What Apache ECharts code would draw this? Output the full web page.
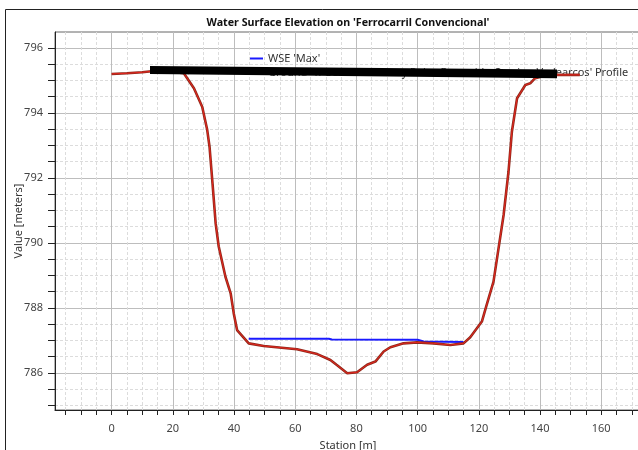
<!DOCTYPE html>
<html>
<head>
<meta charset="utf-8">
<script src="https://cdn.jsdelivr.net/npm/echarts@6/dist/echarts.min.js"></script>
<style>
html,body{margin:0;padding:0;background:#fff;}
#c{width:638px;height:450px;}
</style>
</head>
<body>
<div id="c"></div>
<script>
// ---- data ----
var titleText = "Water Surface Elevation on 'Ferrocarril Convencional'";
var wseName = "WSE 'Max'";
var groundName = "Ground 'Tr Sobre Terreno y Pelos Recrecido Camino Vadearcos' Profile";
var xAxisName = "Station [m]";
var yAxisName = "Value [meters]";

var groundStation = [0, 5, 10, 13, 18, 23.6, 26.9, 29.6, 31.2, 32.0, 33.0, 34.0, 35.0, 37.2, 38.9, 39.9, 41.0, 44.8, 49.7, 60.6, 67.2, 71.5, 73.5, 77.0, 80.2, 83.5, 86.2, 88.9, 91.1, 95.4, 99.8, 105.2, 110.7, 115.0, 117.2, 121.0, 122.4, 124.8, 128.1, 129.7, 130.8, 132.5, 135.2, 136.8, 138.4, 142, 145.5, 153];
var groundElev    = [795.2, 795.22, 795.25, 795.28, 795.28, 795.22, 794.76, 794.19, 793.5, 792.96, 791.8, 790.6, 789.89, 788.96, 788.45, 787.84, 787.32, 786.91, 786.83, 786.73, 786.58, 786.4, 786.25, 785.99, 786.02, 786.25, 786.35, 786.66, 786.79, 786.91, 786.94, 786.91, 786.86, 786.91, 787.1, 787.58, 788.04, 788.81, 790.86, 792.19, 793.42, 794.45, 794.86, 794.91, 795.07, 795.15, 795.17, 795.17];

var wseStation = [44.8, 71, 72, 100, 102, 115];
var wseElev    = [787.05, 787.05, 787.03, 787.02, 786.97, 786.95];

var xLabelValues = [0, 20, 40, 60, 80, 100, 120, 140, 160];
var xMinorValues = [-15,-10,-5,0,5,10,15,20,25,30,35,40,45,50,55,60,65,70,75,80,85,90,95,100,105,110,115,120,125,130,135,140,145,150,155,160,165,170];
var yLabelValues = [786, 788, 790, 792, 794, 796];
var yMinorValues = [785,785.5,786,786.5,787,787.5,788,788.5,789,789.5,790,790.5,791,791.5,792,792.5,793,793.5,794,794.5,795,795.5,796];

function pairs(xs, ys){ return xs.map(function(x,i){ return [x, ys[i]]; }); }

var FONT = "Noto Sans";
var chart = echarts.init(document.getElementById('c'), null, {renderer:'canvas'});

var gridPos = {left:55, top:32, width:586, height:378};
var xMin = -18.5, xMax = 173, yMin = 784.86, yMax = 796.49;

chart.setOption({
  animation:false,
  backgroundColor:'#fff',
  textStyle:{fontFamily:FONT},
  title:{
    text:titleText, left:343, top:12, textAlign:'center',
    textStyle:{fontFamily:FONT, fontSize:10.7, fontWeight:'bold', color:'#111'}
  },
  legend:{
    orient:'vertical', left:245, top:48, itemGap:3,
    itemWidth:13, itemHeight:2, icon:'rect',
    data:[wseName, groundName],
    textStyle:{fontFamily:FONT, fontSize:11, color:'#333'},
    selectedMode:false
  },
  grid:[{left:gridPos.left, top:gridPos.top, width:gridPos.width, height:gridPos.height,
        containLabel:false, outerBoundsMode:'none',
        show:true, borderColor:'#666', borderWidth:1, backgroundColor:'#fff'}],
  xAxis:[
    {type:'value', gridIndex:0, min:xMin, max:xMax,
     name:xAxisName, nameLocation:'middle', nameGap:30,
     nameTextStyle:{fontFamily:FONT, fontSize:11, color:'#333'},
     axisLine:{show:true, onZero:false, lineStyle:{color:'#222', width:1}},
     axisTick:{show:true, customValues:xMinorValues, length:5, lineStyle:{color:'#222'}},
     axisLabel:{customValues:xLabelValues, fontFamily:FONT, fontSize:11, color:'#444', margin:13},
     splitLine:{show:true, lineStyle:{color:'#dcdcdc', type:[3,2], width:1}}
    },
    {type:'value', gridIndex:0, min:xMin, max:xMax, position:'bottom',
     axisLine:{show:false}, axisTick:{show:false, customValues:xLabelValues},
     axisLabel:{show:false, customValues:xLabelValues},
     splitLine:{show:true, lineStyle:{color:'#bdbdbd', width:1}}
    }
  ],
  yAxis:[
    {type:'value', gridIndex:0, min:yMin, max:yMax,
     name:yAxisName, nameLocation:'middle', nameGap:31, nameRotate:90, nameMoveOverlap:false,
     nameTextStyle:{fontFamily:FONT, fontSize:11, color:'#333'},
     axisLine:{show:true, onZero:false, lineStyle:{color:'#222', width:1}},
     axisTick:{show:true, customValues:yMinorValues, length:7, lineStyle:{color:'#222'}},
     axisLabel:{customValues:yLabelValues, fontFamily:FONT, fontSize:11, color:'#444', margin:12},
     splitLine:{show:true, lineStyle:{color:'#dcdcdc', type:[3,2], width:1}}
    },
    {type:'value', gridIndex:0, min:yMin, max:yMax, position:'left',
     axisLine:{show:false}, axisTick:{show:false, customValues:yLabelValues},
     axisLabel:{show:false, customValues:yLabelValues},
     splitLine:{show:true, lineStyle:{color:'#bdbdbd', width:1}}
    }
  ],
  series:[
    {name:wseName, type:'line', xAxisIndex:0, yAxisIndex:0, data:pairs(wseStation, wseElev),
     showSymbol:false, symbol:'none', lineStyle:{color:'#1a1aff', width:2}, itemStyle:{color:'#1a1aff'}, z:3},
    {name:groundName, type:'line', xAxisIndex:0, yAxisIndex:0, data:pairs(groundStation, groundElev),
     showSymbol:false, symbol:'none', lineStyle:{color:'#8e2a1c', width:2.6}, itemStyle:{color:'#c0392b'}, z:4},
    {name:'groundInner', type:'line', xAxisIndex:0, yAxisIndex:0, data:pairs(groundStation, groundElev),
     showSymbol:false, symbol:'none', lineStyle:{color:'#e8241c', width:1}, z:5, silent:true}
  ],
  graphic:[
    {type:'rect', shape:{x:5.5, y:9.5, width:700, height:500}, style:{fill:'none', stroke:'#222', lineWidth:1}, z:100, silent:true},
    {type:'polygon', shape:{points:[[150,66],[557,69.5],[557,78.3],[150,74]]}, style:{fill:'#000'}, z:100, silent:true}
  ]
});
</script>
</body>
</html>
